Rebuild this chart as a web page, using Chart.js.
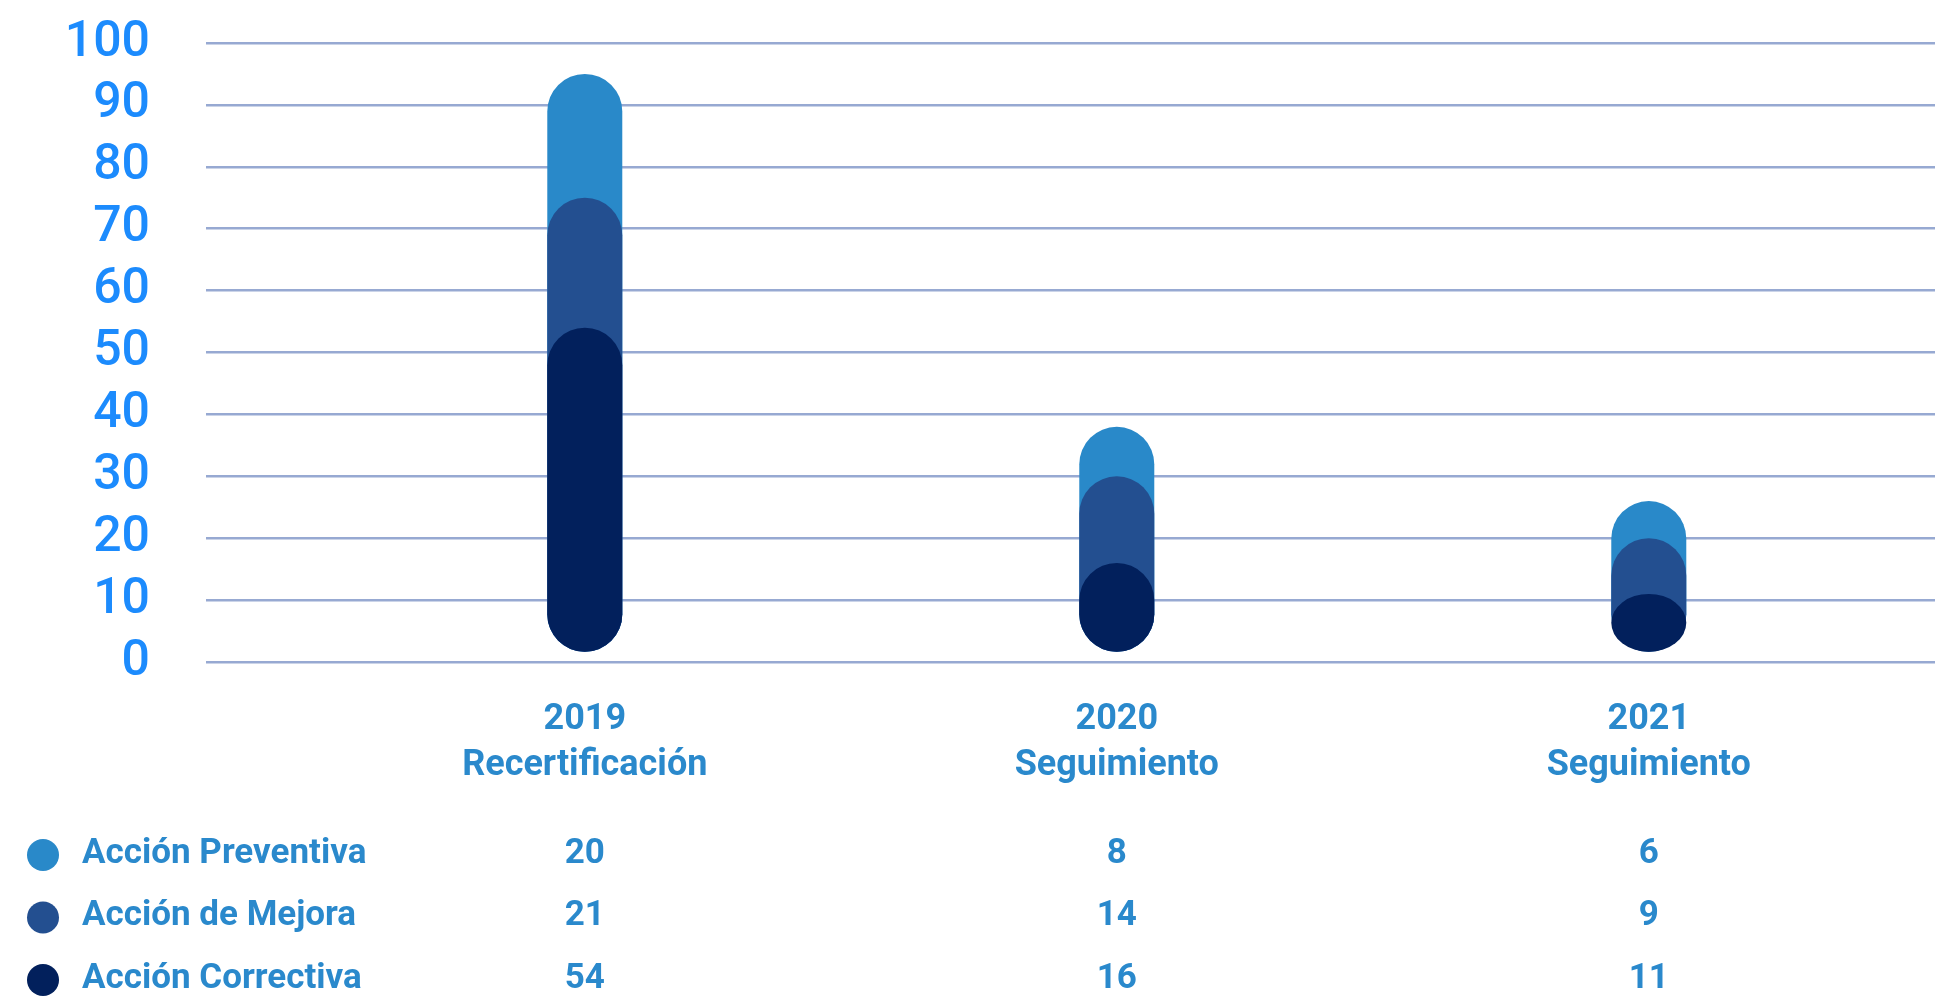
<!DOCTYPE html>
<html lang="es">
<head>
<meta charset="utf-8">
<title>Acciones por auditoría</title>
<script src="https://cdn.jsdelivr.net/npm/chart.js@4.4.1/dist/chart.umd.min.js"></script>
<style>
  html, body { margin: 0; padding: 0; background: #ffffff; }
  #wrap { width: 1935px; height: 996px; }
</style>
</head>
<body>
<div id="wrap"><canvas id="chart" width="1935" height="996"></canvas></div>
<script>
// Audit stages shown along the horizontal axis (year + audit type)
const categories = [
  ['2019', 'Recertificación'],
  ['2020', 'Seguimiento'],
  ['2021', 'Seguimiento']
];

// Number of actions per audit
const accionPreventiva = [20, 8, 6];
const accionMejora = [21, 14, 9];
const accionCorrectiva = [54, 16, 11];

// Value axis ticks
const yTicks = [0, 10, 20, 30, 40, 50, 60, 70, 80, 90, 100];

// Colours
const COLOR_PREVENTIVA = '#2989c9';
const COLOR_MEJORA = '#234f90';
const COLOR_CORRECTIVA = '#02205c';
const COLOR_GRID = '#97a9d2';
const COLOR_YTICK = '#1c8bfd';
const COLOR_TEXT = '#2a89cc';

// Rows of the summary table under the chart (top row first)
const tableRows = [
  { label: 'Acción Preventiva', color: COLOR_PREVENTIVA, values: accionPreventiva },
  { label: 'Acción de Mejora', color: COLOR_MEJORA, values: accionMejora },
  { label: 'Acción Correctiva', color: COLOR_CORRECTIVA, values: accionCorrectiva }
];

// Each series is drawn as a capsule rising from the base up to its running total,
// the lower series painted over the upper ones.
const totalCorrectiva = accionCorrectiva.map(v => v);
const totalMejora = accionCorrectiva.map((v, i) => v + accionMejora[i]);
const totalPreventiva = accionCorrectiva.map((v, i) => v + accionMejora[i] + accionPreventiva[i]);
const toPoints = arr => arr.map((v, i) => ({ x: i, y: v }));

// Capsule-shaped bar: rounded top and bottom, lifted slightly off the base line
const BASE_GAP = 9;
class CapsuleElement extends Chart.BarElement {
  draw(ctx) {
    const { x, y, base, width } = this.getProps(['x', 'y', 'base', 'width']);
    const rx = width / 2;
    const bottom = base - BASE_GAP;
    const ry = Math.max(0, Math.min(rx, (bottom - y) / 2));
    ctx.save();
    ctx.fillStyle = this.options.backgroundColor;
    ctx.beginPath();
    ctx.ellipse(x, y + ry, rx, ry, 0, Math.PI, 2 * Math.PI);
    ctx.lineTo(x + rx, bottom - ry);
    ctx.ellipse(x, bottom - ry, rx, ry, 0, 0, Math.PI);
    ctx.closePath();
    ctx.fill();
    ctx.restore();
  }
}
CapsuleElement.id = 'capsule';
CapsuleElement.defaults = Object.assign({}, Chart.BarElement.defaults);
CapsuleElement.defaultRoutes = Chart.BarElement.defaultRoutes;

class CapsuleController extends Chart.BarController {}
CapsuleController.id = 'capsule';
CapsuleController.defaults = Object.assign({}, Chart.BarController.defaults, { dataElementType: 'capsule' });
CapsuleController.overrides = Chart.BarController.overrides;

Chart.register(CapsuleElement, CapsuleController);

// Summary table: coloured dot, series name and one value under each stage
const tablePlugin = {
  id: 'summaryTable',
  afterDraw(chart) {
    const ctx = chart.ctx;
    const xScale = chart.scales.x;
    const rowTop = 854;
    const rowStep = 62.5;
    ctx.save();
    ctx.font = 'bold 35px Roboto, "Open Sans", sans-serif';
    ctx.textBaseline = 'middle';
    tableRows.forEach((row, r) => {
      const cy = rowTop + r * rowStep;
      ctx.fillStyle = row.color;
      ctx.beginPath();
      ctx.arc(43, cy + 1, 16, 0, 2 * Math.PI);
      ctx.fill();
      ctx.fillStyle = COLOR_TEXT;
      ctx.textAlign = 'left';
      ctx.fillText(row.label, 82, cy);
      ctx.textAlign = 'center';
      row.values.forEach((v, i) => {
        ctx.fillText(String(v), xScale.getPixelForValue(i), cy);
      });
    });
    ctx.restore();
  }
};

new Chart(document.getElementById('chart'), {
  type: 'capsule',
  data: {
    datasets: [
      { label: 'Acción Correctiva', data: toPoints(totalCorrectiva), backgroundColor: COLOR_CORRECTIVA },
      { label: 'Acción de Mejora', data: toPoints(totalMejora), backgroundColor: COLOR_MEJORA },
      { label: 'Acción Preventiva', data: toPoints(totalPreventiva), backgroundColor: COLOR_PREVENTIVA }
    ]
  },
  options: {
    responsive: false,
    animation: false,
    events: [],
    grouped: false,
    barThickness: 75,
    layout: { padding: { top: 43, right: 0, bottom: 0, left: 0 } },
    plugins: {
      legend: { display: false },
      tooltip: { enabled: false }
    },
    scales: {
      x: {
        type: 'linear',
        min: -0.712,
        max: 2.538,
        offset: false,
        grid: { display: false, drawTicks: false, offset: false },
        border: { display: false },
        afterFit(scale) {
          scale.height = 334;
          scale.paddingLeft = 0;
          scale.paddingRight = 0;
        },
        ticks: {
          stepSize: 1,
          includeBounds: false,
          autoSkip: false,
          maxRotation: 0,
          padding: 35,
          color: COLOR_TEXT,
          font: { family: 'Roboto', size: 36, weight: 'bold', lineHeight: 1.28 },
          callback: v => categories[v] || ''
        }
      },
      y: {
        min: 0,
        max: 100,
        afterFit(scale) {
          scale.width = 206;
          scale.paddingTop = 0;
          scale.paddingBottom = 0;
        },
        afterBuildTicks(scale) { scale.ticks = yTicks.map(v => ({ value: v })); },
        grid: { color: COLOR_GRID, lineWidth: 2.5, drawTicks: false },
        border: { display: false },
        ticks: {
          autoSkip: false,
          padding: 56,
          color: COLOR_YTICK,
          font: { family: 'Roboto', size: 50, weight: '500', lineHeight: 1 }
        }
      }
    }
  },
  plugins: [tablePlugin]
});
</script>
</body>
</html>
